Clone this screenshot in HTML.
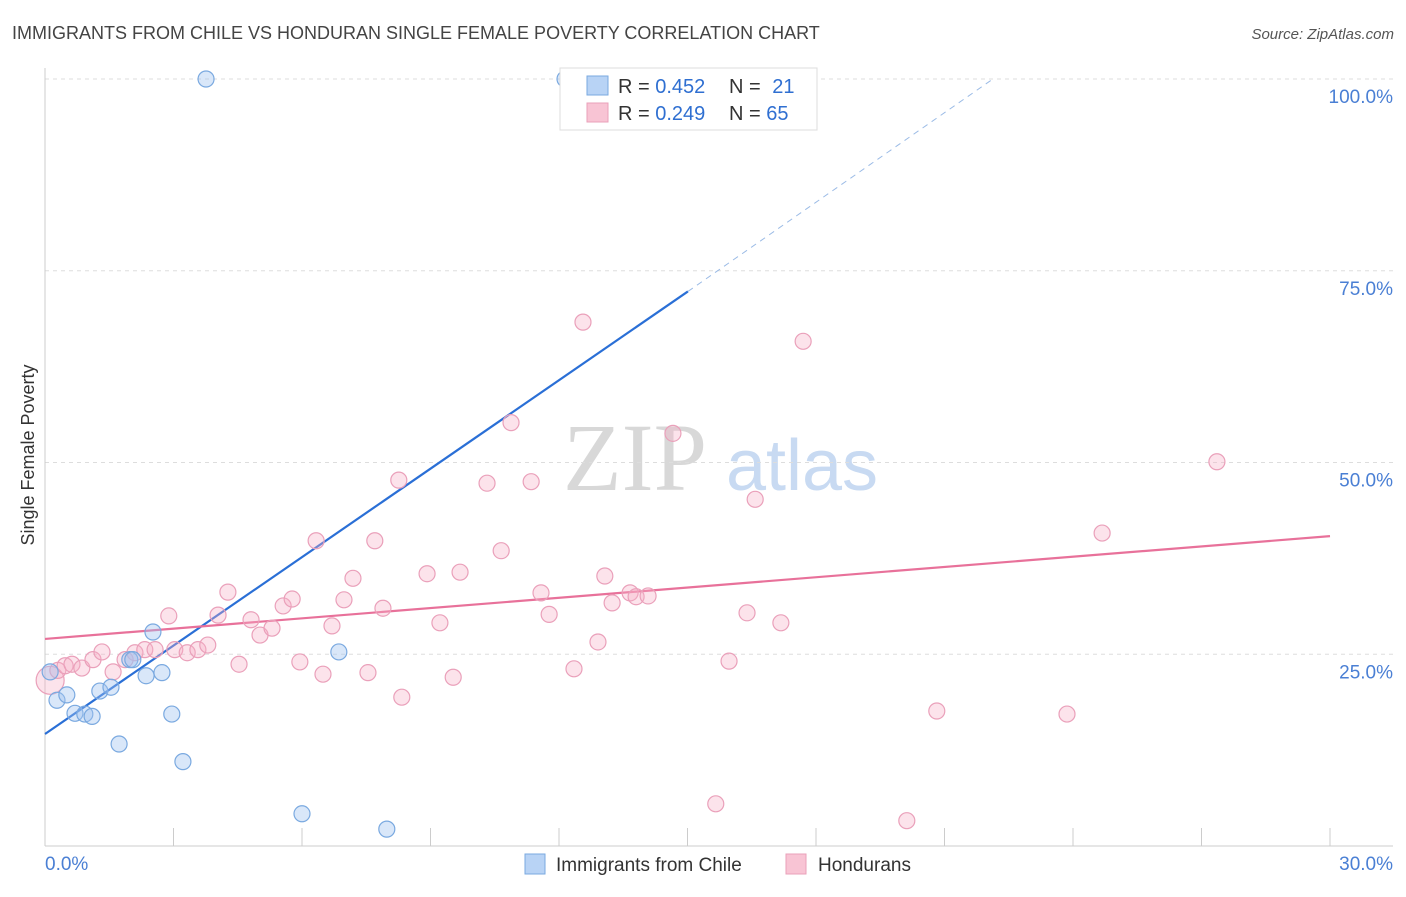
<!DOCTYPE html>
<html><head><meta charset="utf-8"><style>
body{margin:0;background:#fff;font-family:"Liberation Sans",sans-serif}
</style></head><body>
<svg id="chart" width="1406" height="892" xmlns="http://www.w3.org/2000/svg" font-family="Liberation Sans, sans-serif">
<text x="12" y="39" font-size="18" fill="#444">IMMIGRANTS FROM CHILE VS HONDURAN SINGLE FEMALE POVERTY CORRELATION CHART</text>
<text x="1394" y="39" font-size="15" fill="#555" text-anchor="end" font-style="italic">Source: ZipAtlas.com</text>
<text transform="translate(34,455) rotate(-90)" font-size="18" fill="#333" text-anchor="middle">Single Female Poverty</text>
<g>
<text x="635" y="490" font-size="96" font-family="Liberation Serif, serif" fill="#d8d8d8" text-anchor="middle">ZIP</text>
<text x="802" y="490" font-size="72" fill="#c8daf2" text-anchor="middle">atlas</text>
</g>
<g id="grid"></g><g id="axes"></g><g id="lines"></g><g id="pts"></g>
<g>
<rect x="560" y="68" width="257" height="62" fill="#fff" stroke="#ddd"/>
<rect x="587" y="76" width="21" height="19" fill="#b8d3f5" stroke="#7aa9e0"/>
<rect x="587" y="103" width="21" height="19" fill="#f8c4d4" stroke="#eaa0ba"/>
<text x="618" y="93" font-size="20" fill="#333">R = <tspan fill="#2f6fd1">0.452</tspan></text>
<text x="729" y="93" font-size="20" fill="#333">N = <tspan fill="#2f6fd1" dx="6">21</tspan></text>
<text x="618" y="120" font-size="20" fill="#333">R = <tspan fill="#2f6fd1">0.249</tspan></text>
<text x="729" y="120" font-size="20" fill="#333">N = <tspan fill="#2f6fd1">65</tspan></text>
</g>
<g>
<rect x="525" y="854" width="20" height="20" fill="#b8d3f5" stroke="#7aa9e0"/>
<text x="556" y="871" font-size="19" fill="#333">Immigrants from Chile</text>
<rect x="786" y="854" width="20" height="20" fill="#f8c4d4" stroke="#eaa0ba"/>
<text x="818" y="871" font-size="19" fill="#333">Hondurans</text>
</g>
</svg>
<script>
const yTicks=[25,50,75,100];
const yTickLabels=["25.0%","50.0%","75.0%","100.0%"];
const blueX=[0.12,0.28,0.51,0.70,0.93,1.10,1.28,1.54,1.73,1.98,2.05,2.36,2.52,2.73,2.96,3.22,6.00,6.86,7.98,3.76,12.14];
const blueY=[22.7,19.0,19.7,17.3,17.2,16.9,20.2,20.7,13.3,24.3,24.3,22.2,27.9,22.6,17.2,11.0,4.2,25.3,2.2,100,100];
const pinkX=[0.12,0.30,0.47,0.63,0.86,1.12,1.33,1.59,1.87,2.10,2.33,2.57,2.89,3.03,3.32,3.57,3.80,4.04,4.27,4.53,4.81,5.02,5.30,5.56,5.77,5.95,6.33,6.49,6.70,6.98,7.19,7.54,7.70,7.89,8.26,8.33,8.92,9.22,9.53,9.69,10.32,10.65,10.88,11.35,11.58,11.77,12.35,12.56,12.91,13.07,13.24,13.66,13.80,14.08,14.66,15.66,15.97,16.39,16.58,17.18,17.70,20.12,20.82,23.86,24.68,27.36];
const pinkY=[21.6,22.9,23.5,23.7,23.2,24.3,25.3,22.7,24.3,25.2,25.6,25.6,30.0,25.6,25.2,25.6,26.2,30.1,33.1,23.7,29.5,27.5,28.4,31.3,32.2,24.0,39.8,22.4,28.7,32.1,34.9,22.6,39.8,31.0,47.7,19.4,35.5,29.1,22.0,35.7,47.3,38.5,55.2,47.5,33.0,30.2,23.1,68.3,26.6,35.2,31.7,33.0,32.5,32.6,53.8,5.5,24.1,30.4,45.2,29.1,65.8,3.3,17.6,17.2,40.8,50.1];
const blueTrend=[14.6,72.3,100];const blueTrendX=[0,15.01,22.13];
const pinkTrend=[27.0,40.4];const pinkTrendX=[0,30];
const X=v=>45+v/30*1285, Y=v=>846-v/100*767;
const NS="http://www.w3.org/2000/svg";
function mk(p,t,a){const e=document.createElementNS(NS,t);for(const k in a)e.setAttribute(k,a[k]);document.getElementById(p).appendChild(e);return e;}
yTicks.forEach((t,i)=>{
 const g=mk('grid','line',{x1:45,x2:1393,y1:Y(t),y2:Y(t),stroke:'#ddd','stroke-dasharray':'4,4'});
 
 
 const l=mk('axes','text',{x:1393,y:Y(t)+24,'font-size':19,fill:'#4a7fd4','text-anchor':'end'});l.textContent=yTickLabels[i];
 
 
});
const ax=mk('axes','line',{x1:45,x2:1393,y1:846,y2:846,stroke:'#ccc'});


const ay=mk('axes','line',{x1:45,x2:45,y1:68,y2:846,stroke:'#ccc'});


for(let i=1;i<=10;i++){const t=mk('axes','line',{x1:X(i*3),x2:X(i*3),y1:828,y2:846,stroke:'#ccc'});
 
 }
const x0=mk('axes','text',{x:45,y:870,'font-size':19,fill:'#4a7fd4'});x0.textContent='0.0%';


const x1=mk('axes','text',{x:1393,y:870,'font-size':19,fill:'#4a7fd4','text-anchor':'end'});x1.textContent='30.0%';


pinkX.forEach((v,i)=>{const c=mk('pts','circle',{cx:X(v),cy:Y(pinkY[i]),r:i==0?14:8,fill:'rgba(245,175,198,0.35)',stroke:'#eaa0ba','stroke-width':1.2});
 
 });
blueX.forEach((v,i)=>{const c=mk('pts','circle',{cx:X(v),cy:Y(blueY[i]),r:8,fill:'rgba(160,196,240,0.4)',stroke:'#7aa9e0','stroke-width':1.2});
 
 });
const bl=mk('lines','line',{x1:X(blueTrendX[0]),y1:Y(blueTrend[0]),x2:X(blueTrendX[1]),y2:Y(blueTrend[1]),stroke:'#2a6fd6','stroke-width':2.2});


const bd=mk('lines','line',{x1:X(blueTrendX[1]),y1:Y(blueTrend[1]),x2:X(blueTrendX[2]),y2:Y(blueTrend[2]),stroke:'#9bbbe6','stroke-width':1,'stroke-dasharray':'6,5'});


const pl=mk('lines','line',{x1:X(pinkTrendX[0]),y1:Y(pinkTrend[0]),x2:X(pinkTrendX[1]),y2:Y(pinkTrend[1]),stroke:'#e8719a','stroke-width':2.2});


</script>
</body></html>
